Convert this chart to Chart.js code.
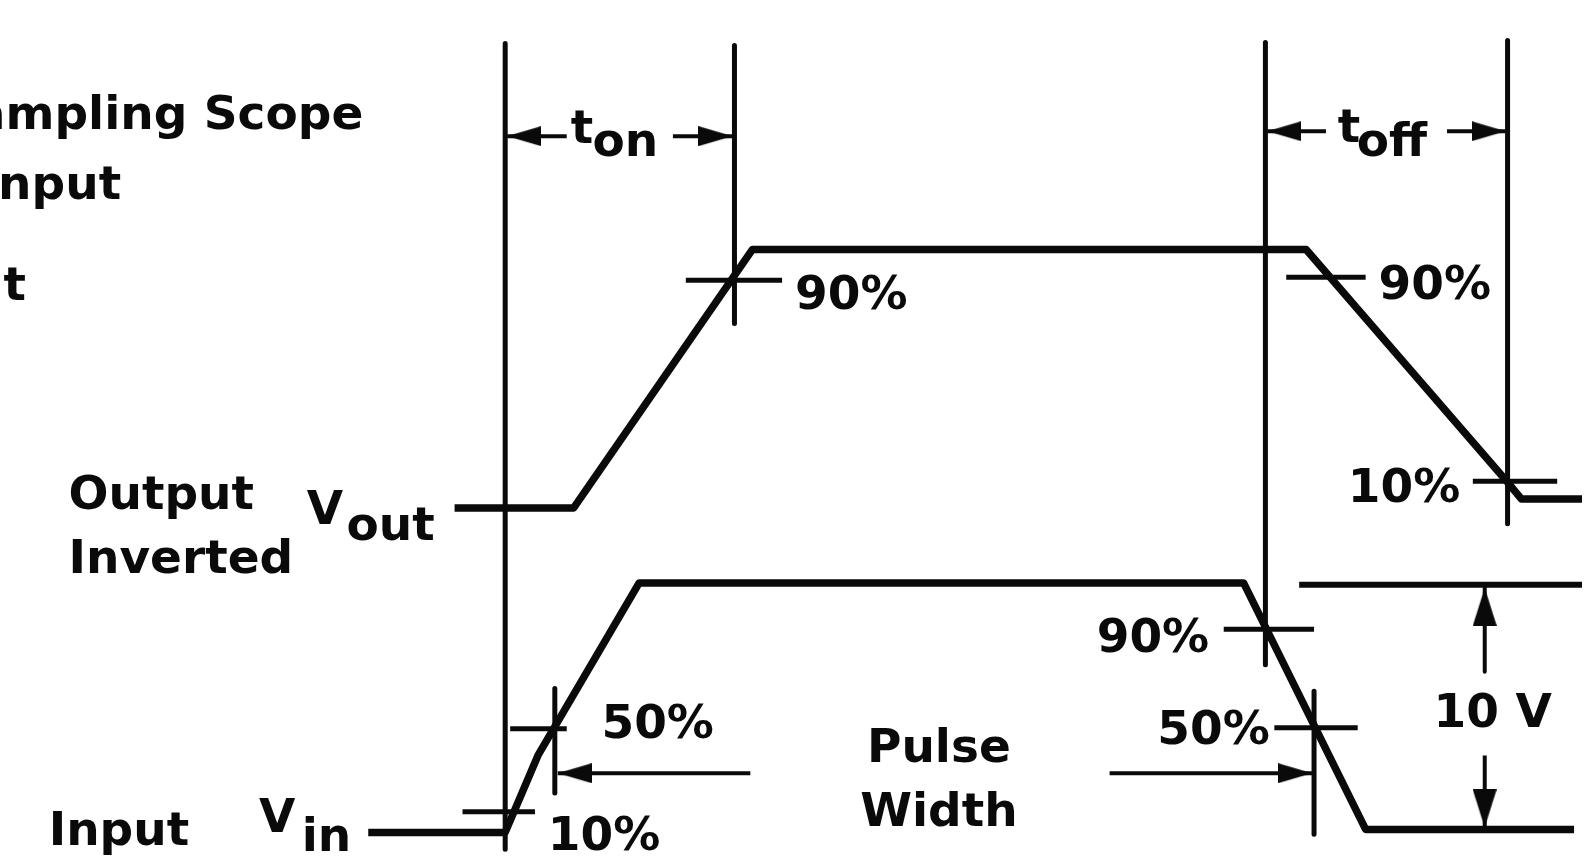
<!DOCTYPE html>
<html>
<head>
<meta charset="utf-8">
<script src="https://cdn.jsdelivr.net/npm/chart.js@4.4.1/dist/chart.umd.min.js"></script>
<style>
  html, body { margin: 0; padding: 0; background: #fff; }
  #wrap { width: 1588px; height: 866px; position: relative; }
</style>
</head>
<body>
<div id="wrap"><canvas id="timing"></canvas></div>
<script>
// switching time waveform (time units across, level units down)
const outTime  = [452, 572, 752, 1310, 1513, 1527, 1588];
const outLevel = [509, 509, 247, 247, 483, 500, 500];
const inTime   = [365, 503, 536, 638, 1247, 1370, 1580];
const inLevel  = [838, 838, 760, 585, 585, 835, 835];

// vertical reference lines (t_on / t_off / pulse width markers)
const refTime   = [503, 734, 1269, 1513, 553, 1318];
const refTop    = [38, 40, 37, 35, 692, 695];
const refBottom = [855, 322, 668, 525, 798, 840];

// short horizontal threshold ticks (90% / 50% / 10%)
const tickLevel = [278, 275, 482, 817, 733, 632, 732];
const tickFrom  = [685, 1290, 1478, 460, 508, 1227, 1278];
const tickTo    = [782, 1370, 1563, 533, 565, 1318, 1362];

// 10 V reference level
const refLevelY = [587, 587];
const refLevelX = [1303, 1588];

// dimension arrows: tip and tail
const arrowTipX  = [505, 732, 1271, 1511, 556, 1316, 1490, 1490];
const arrowTipY  = [132, 132, 127, 127, 778, 778, 590, 833];
const arrowTailX = [565, 672, 1330, 1452, 750, 1112, 1490, 1490];
const arrowTailY = [132, 132, 127, 127, 778, 778, 675, 760];

const labels = [
    { text: "Sampling Scope", x: 360, y: 125, align: "right" },
    { text: "Input", x: 116, y: 196, align: "right" },
    { text: "Output", x: 20, y: 298, align: "right" },
    { text: "t", x: 569, y: 139 }, { text: "on", x: 591, y: 152 },
    { text: "t", x: 1342, y: 138 }, { text: "off", x: 1361, y: 152 },
    { text: "90%", x: 795, y: 307 },
    { text: "90%", x: 1383, y: 297 },
    { text: "10%", x: 1352, y: 503 },
    { text: "Output", x: 63, y: 510 },
    { text: "Inverted", x: 63, y: 575 },
    { text: "V", x: 303, y: 525 }, { text: "out", x: 343, y: 542 },
    { text: "90%", x: 1099, y: 655 },
    { text: "50%", x: 600, y: 742 },
    { text: "50%", x: 1160, y: 748 },
    { text: "10 V", x: 1498, y: 731, align: "center" },
    { text: "Pulse", x: 940, y: 767, align: "center" },
    { text: "Width", x: 940, y: 832, align: "center" },
    { text: "Input", x: 43, y: 851 },
    { text: "V", x: 255, y: 838 }, { text: "in", x: 298, y: 857 },
    { text: "10%", x: 546, y: 856 }
];

const INK = "#0a0a0a";

function makeHead(w, len){
    // arrowhead pointing up, tip in the centre of the canvas
    const c = document.createElement("canvas");
    c.width = w;
    c.height = len * 2;
    const g = c.getContext("2d");
    g.fillStyle = INK;
    g.beginPath();
    g.moveTo(w / 2, len);
    g.lineTo(w, len * 2);
    g.lineTo(0, len * 2);
    g.closePath();
    g.fill();
    return c;
}

function zipPts(xs, ys){
    let pts = [];
    for(let i = 0; i < xs.length; i++){
        pts.push({ x: xs[i], y: ys[i] });
    }
    return pts;
}

function lineSet(pts, width){
    return {
        data: pts,
        showLine: true,
        borderColor: INK,
        borderWidth: width,
        pointRadius: 0,
        borderJoinStyle: "round",
        fill: false
    };
}

let datasets = [];
datasets.push(lineSet(zipPts(outTime, outLevel), 7.5));
datasets.push(lineSet(zipPts(inTime, inLevel), 7.5));

for(let i in refTime){
    datasets.push(lineSet([{ x: refTime[i], y: refTop[i] }, { x: refTime[i], y: refBottom[i] }], 5));
}
for(let i in tickLevel){
    datasets.push(lineSet([{ x: tickFrom[i], y: tickLevel[i] }, { x: tickTo[i], y: tickLevel[i] }], 5));
}
datasets.push(lineSet(zipPts(refLevelX, refLevelY), 6));

let rotations = [];
let heads = [];
for(let i = 0; i < arrowTipX.length; i++){
    datasets.push(lineSet([{ x: arrowTipX[i], y: arrowTipY[i] }, { x: arrowTailX[i], y: arrowTailY[i] }], 4));
    let dx = arrowTipX[i] - arrowTailX[i];
    let dy = arrowTipY[i] - arrowTailY[i];
    if(dx < 0) rotations.push(-90);
    else if(dx > 0) rotations.push(90);
    else rotations.push(dy < 0 ? 0 : 180);
    heads.push(i >= 6 ? makeHead(24, 38) : makeHead(20, 34));
}
datasets.push({
    data: zipPts(arrowTipX, arrowTipY),
    showLine: false,
    pointStyle: heads,
    pointRotation: rotations,
    pointRadius: 5
});

const textPlugin = {
    id: "diagramText",
    afterDatasetsDraw(chart){
        const ctx = chart.ctx;
        const xs = chart.scales.x;
        const ys = chart.scales.y;
        ctx.save();
        ctx.fillStyle = INK;
        ctx.font = "bold 47px 'DejaVu Sans'";
        ctx.textBaseline = "alphabetic";
        for(let l of labels){
            ctx.textAlign = l.align || "left";
            ctx.fillText(l.text, xs.getPixelForValue(l.x), ys.getPixelForValue(l.y));
        }
        ctx.restore();
    }
};

new Chart(document.getElementById("timing").getContext("2d"), {
    type: "scatter",
    data: { datasets: datasets },
    options: {
        responsive: true,
        maintainAspectRatio: false,
        animation: false,
        layout: { padding: 0 },
        plugins: { legend: { display: false }, tooltip: { enabled: false } },
        scales: {
            x: { type: "linear", min: 0, max: 1588, display: false },
            y: { type: "linear", min: 0, max: 866, reverse: true, display: false }
        }
    },
    plugins: [textPlugin]
});
</script>
</body>
</html>
